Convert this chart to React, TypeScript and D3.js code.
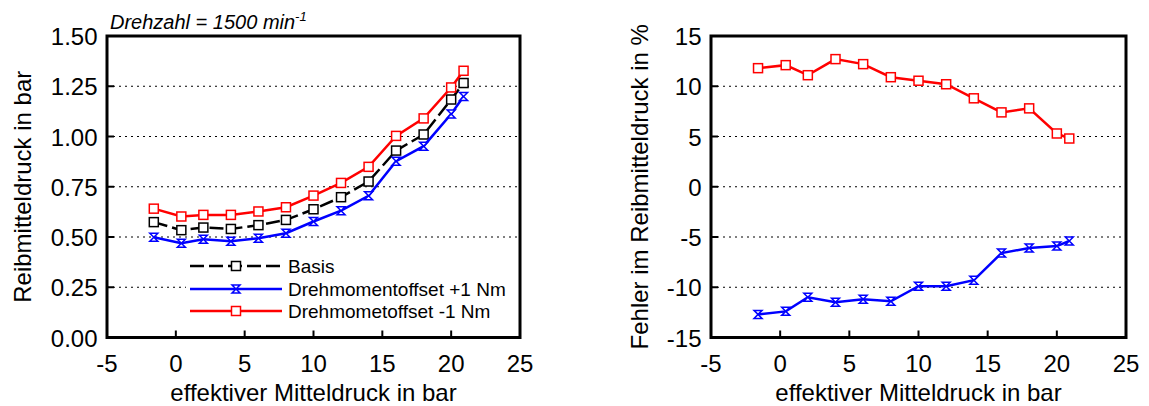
import React from "react";
import * as d3 from "d3";

const xPressure = [-1.6, 0.4, 2, 4, 6, 8, 10, 12, 14, 16, 18, 20, 20.9];
const basis = [0.574, 0.534, 0.547, 0.540, 0.559, 0.585, 0.638, 0.698, 0.776, 0.930, 1.010, 1.184, 1.266];
const plusOneNm = [0.499, 0.469, 0.489, 0.479, 0.494, 0.519, 0.577, 0.631, 0.705, 0.877, 0.952, 1.112, 1.199];
const minusOneNm = [0.641, 0.602, 0.610, 0.610, 0.627, 0.648, 0.706, 0.769, 0.849, 1.003, 1.090, 1.244, 1.327];
const errPlus = [-12.7, -12.4, -11.0, -11.5, -11.2, -11.4, -9.9, -9.9, -9.3, -6.6, -6.1, -5.9, -5.4];
const errMinus = [11.8, 12.1, 11.1, 12.7, 12.2, 10.9, 10.55, 10.2, 8.8, 7.4, 7.8, 5.3, 4.8];

const xTicks = [-5, 0, 5, 10, 15, 20, 25];
const leftYTicks = [0, 0.25, 0.5, 0.75, 1.0, 1.25, 1.5];
const rightYTicks = [-15, -10, -5, 0, 5, 10, 15];

const legendLabels = ["Basis", "Drehmomentoffset +1 Nm", "Drehmometoffset -1 Nm"];

const FONT = "'Liberation Sans', Arial, sans-serif";
const RED = "#ff0000";
const BLUE = "#0000ff";
const FS = 24;

function Square({ x, y, color }: { x: number; y: number; color: string }) {
  return <rect x={x - 4.5} y={y - 4.5} width={9} height={9} fill="#fff" stroke={color} strokeWidth={1.5} />;
}
function Hourglass({ x, y, color }: { x: number; y: number; color: string }) {
  return (
    <path
      d={`M${x - 4},${y - 4}L${x + 4},${y - 4}L${x - 4},${y + 4}L${x + 4},${y + 4}Z`}
      fill="#fff"
      stroke={color}
      strokeWidth={1.5}
      strokeLinejoin="miter"
    />
  );
}

function Panel({
  left, right, top, bottom, yDomain, yTicks, yFormat, yLabel, yLabelX, series, legend,
}: any) {
  const x = d3.scaleLinear().domain([-5, 25]).range([left, right]);
  const y = d3.scaleLinear().domain(yDomain).range([bottom, top]);
  const line = d3.line<number>().x((_, i) => x(xPressure[i])).y((v) => y(v));
  return (
    <g>
      {yTicks.slice(1, -1).map((t: number) => (
        <line key={"g" + t} x1={left} x2={right} y1={y(t)} y2={y(t)} stroke="#000" strokeWidth={1} strokeDasharray="2,4" />
      ))}
      {legend}
      {series.map((s: any, si: number) => (
        <g key={si}>
          <path d={line(s.values) || ""} fill="none" stroke={s.color} strokeWidth={2.5} strokeDasharray={s.dash} />
          {s.values.map((v: number, i: number) =>
            s.marker === "square" ? (
              <Square key={i} x={x(xPressure[i])} y={y(v)} color={s.color} />
            ) : (
              <Hourglass key={i} x={x(xPressure[i])} y={y(v)} color={s.color} />
            )
          )}
        </g>
      ))}
      <rect x={left} y={top} width={right - left} height={bottom - top} fill="none" stroke="#000" strokeWidth={3} />
      {xTicks.map((t) => (
        <g key={"x" + t}>
          <line x1={x(t)} x2={x(t)} y1={bottom} y2={bottom - 7} stroke="#000" strokeWidth={2} />
          <text x={x(t)} y={bottom + 34} textAnchor="middle" fontSize={FS} fontFamily={FONT}>{t}</text>
        </g>
      ))}
      {yTicks.map((t: number) => (
        <g key={"y" + t}>
          <line x1={left} x2={left + 7} y1={y(t)} y2={y(t)} stroke="#000" strokeWidth={2} />
          <text x={left - 9.5} y={y(t) + 9} textAnchor="end" fontSize={FS} fontFamily={FONT}>{yFormat(t)}</text>
        </g>
      ))}
      <text x={(left + right) / 2} y={bottom + 63} textAnchor="middle" fontSize={FS} fontFamily={FONT}>
        effektiver Mitteldruck in bar
      </text>
      <text
        transform={`translate(${yLabelX},${(top + bottom) / 2}) rotate(-90)`}
        textAnchor="middle"
        fontSize={FS}
        fontFamily={FONT}
      >
        {yLabel}
      </text>
    </g>
  );
}

export default function App() {
  const legendX1 = 190, legendX2 = 282, legendRows = [266, 289, 311];
  const legendStyles = [
    { color: "#000", dash: "14,5", marker: "square" },
    { color: BLUE, dash: undefined, marker: "hourglass" },
    { color: RED, dash: undefined, marker: "square" },
  ];
  const legend = (
    <g>
      <rect x={186} y={254} width={332} height={68} fill="#fff" />
      {legendLabels.map((lab, i) => {
        const st = legendStyles[i];
        const yy = legendRows[i];
        const mx = (legendX1 + legendX2) / 2;
        return (
          <g key={lab}>
            <line x1={legendX1} x2={legendX2} y1={yy} y2={yy} stroke={st.color} strokeWidth={2.5} strokeDasharray={st.dash} />
            {st.marker === "square" ? <Square x={mx} y={yy} color={st.color} /> : <Hourglass x={mx} y={yy} color={st.color} />}
            <text x={legendX2 + 6} y={yy + 7} fontSize={19} fontFamily={FONT}>{lab}</text>
          </g>
        );
      })}
    </g>
  );
  return (
    <svg width={1149} height={406} style={{ position: "absolute", left: 0, top: 0, background: "#fff" }}>
      <Panel
        left={107} right={520} top={36} bottom={337.5}
        yDomain={[0, 1.5]} yTicks={leftYTicks} yFormat={(t: number) => t.toFixed(2)}
        yLabel="Reibmitteldruck in bar" yLabelX={31}
        legend={legend}
        series={[
          { values: basis, color: "#000", dash: "14,5", marker: "square" },
          { values: plusOneNm, color: BLUE, marker: "hourglass" },
          { values: minusOneNm, color: RED, marker: "square" },
        ]}
      />
      <Panel
        left={711} right={1126} top={36} bottom={337.5}
        yDomain={[-15, 15]} yTicks={rightYTicks} yFormat={(t: number) => String(t)}
        yLabel="Fehler im Reibmitteldruck in %" yLabelX={648}
        series={[
          { values: errMinus, color: RED, marker: "square" },
          { values: errPlus, color: BLUE, marker: "hourglass" },
        ]}
      />
      <text x={110} y={29} fontSize={20} fontStyle="italic" fontFamily={FONT}>
        Drehzahl = 1500 min<tspan dy={-8} fontSize={13}>-1</tspan>
      </text>
    </svg>
  );
}
